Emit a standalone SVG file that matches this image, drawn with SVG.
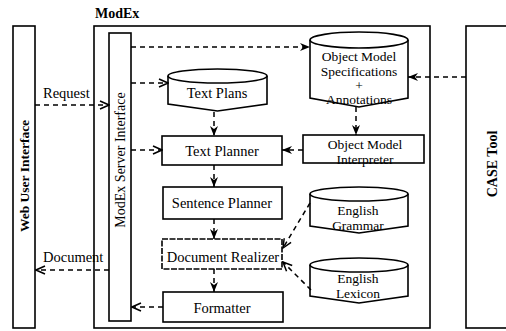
<svg xmlns="http://www.w3.org/2000/svg" width="506" height="331" viewBox="0 0 506 331">
<defs>
<style>
.box{fill:#fff;stroke:#000;stroke-width:1.6}
.frame{fill:none;stroke:#000;stroke-width:1.6}
.t{font-family:"Liberation Serif","Times New Roman",serif;font-size:14.5px;fill:#000;text-anchor:middle}
.m{font-family:"Liberation Serif","Times New Roman",serif;font-size:13.5px;fill:#000;text-anchor:middle}
.l{font-family:"Liberation Serif","Times New Roman",serif;font-size:14.5px;fill:#000;text-anchor:start}
.b{font-family:"Liberation Serif","Times New Roman",serif;font-weight:bold;fill:#000}
.c{fill:none;stroke:#000;stroke-width:1.5;stroke-dasharray:5 4}
</style>
<marker id="fa" markerUnits="userSpaceOnUse" markerWidth="10" markerHeight="8" refX="10" refY="4" orient="auto">
<path d="M0,0 L10,4 L0,8 L3,4 Z" fill="#000"/>
</marker>
<marker id="oa" markerUnits="userSpaceOnUse" markerWidth="11" markerHeight="10" refX="10" refY="5" orient="auto">
<path d="M1,1 L10,5 L1,9" fill="none" stroke="#000" stroke-width="1.5"/>
</marker>
</defs>

<g id="web-ui">
<rect class="frame" x="13" y="26" width="22" height="302"/>
<text class="b" font-size="13.5" text-anchor="middle" transform="translate(29,176) rotate(-90)">Web User Interface</text>
</g>

<g id="modex">
<rect class="frame" x="94" y="26" width="336" height="302"/>
<text class="b" font-size="14" x="95" y="18">ModEx</text>
</g>

<g id="case-tool">
<rect class="frame" x="466" y="26" width="50" height="302"/>
<text class="b" font-size="14" text-anchor="middle" transform="translate(497,164) rotate(-90)">CASE Tool</text>
</g>

<g id="server-interface">
<rect class="box" x="109" y="33" width="22" height="288"/>
<text class="t" style="font-size:14px" transform="translate(125,160) rotate(-90)">ModEx Server Interface</text>
</g>

<g id="text-plans">
<path class="box" d="M168,76 A49.5,7 0 0 1 267,76 L267,104 L217.5,111 L168,104 Z"/>
<path class="frame" d="M168,76 A49.5,7 0 0 0 267,76"/>
<text class="t" x="217" y="98">Text Plans</text>
</g>

<g id="oms">
<path class="box" d="M310,40 A49,8 0 0 1 408,40 L408,98 L359,107 L310,98 Z"/>
<path class="frame" d="M310,40 A49,8 0 0 0 408,40"/>
<text class="m" x="359" y="61">Object Model</text>
<text class="m" x="359" y="76">Specifications</text>
<text class="m" x="359" y="90">+</text>
<text class="m" x="359" y="104">Annotations</text>
</g>

<g id="text-planner">
<rect class="box" x="162" y="136" width="120" height="29"/>
<text class="t" x="222" y="156">Text Planner</text>
</g>

<g id="om-interpreter">
<rect class="box" x="303" y="135" width="121" height="28"/>
<text class="m" x="365" y="149">Object Model</text>
<text class="m" x="365" y="164">Interpreter</text>
</g>

<g id="sentence-planner">
<rect class="box" x="163" y="187" width="119" height="32"/>
<text class="t" x="222" y="208">Sentence Planner</text>
</g>

<g id="english-grammar">
<path class="box" d="M310,194 A49,7 0 0 1 408,194 L408,226 L359,233 L310,226 Z"/>
<path class="frame" d="M310,194 A49,7 0 0 0 408,194"/>
<text class="m" x="358" y="215">English</text>
<text class="m" x="358" y="230">Grammar</text>
</g>

<g id="document-realizer">
<rect class="box" x="162" y="239" width="120" height="30" stroke-dasharray="6 1.5"/>
<text class="t" x="223" y="262">Document Realizer</text>
</g>

<g id="english-lexicon">
<path class="box" d="M310,265 A49,7 0 0 1 408,265 L408,296 L359,303 L310,296 Z"/>
<path class="frame" d="M310,265 A49,7 0 0 0 408,265"/>
<text class="m" x="358" y="283">English</text>
<text class="m" x="358" y="298">Lexicon</text>
</g>

<g id="formatter">
<rect class="box" x="163" y="292" width="120" height="30"/>
<text class="t" x="222" y="313">Formatter</text>
</g>

<g id="connectors">
<path class="c" d="M131,47 L310,47" marker-end="url(#fa)"/>
<path class="c" d="M131,83 L168,83" marker-end="url(#oa)"/>
<path class="c" d="M131,150 L162,150" marker-end="url(#oa)"/>
<path class="c" d="M35,105 L109,105" marker-end="url(#oa)"/>
<path class="c" d="M109,270 L36,270" marker-end="url(#oa)"/>
<path class="c" d="M163,307 L132,307" marker-end="url(#oa)"/>
<path class="c" d="M214,112 L214,136" marker-end="url(#fa)"/>
<path class="c" d="M214,165 L214,187" marker-end="url(#fa)"/>
<path class="c" d="M214,219 L214,239" marker-end="url(#fa)"/>
<path class="c" d="M214,269 L214,292" marker-end="url(#fa)"/>
<path class="c" d="M356,107 L356,135" marker-end="url(#fa)"/>
<path class="c" d="M303,150 L282,150" marker-end="url(#fa)"/>
<path class="c" d="M466,77 L408,77" marker-end="url(#fa)"/>
<path class="c" d="M310,203 L283,248" marker-end="url(#oa)"/>
<path class="c" d="M311,290 L283,262" marker-end="url(#oa)"/>
<text class="l" x="43" y="98">Request</text>
<text class="l" x="43" y="262">Document</text>
</g>
</svg>
